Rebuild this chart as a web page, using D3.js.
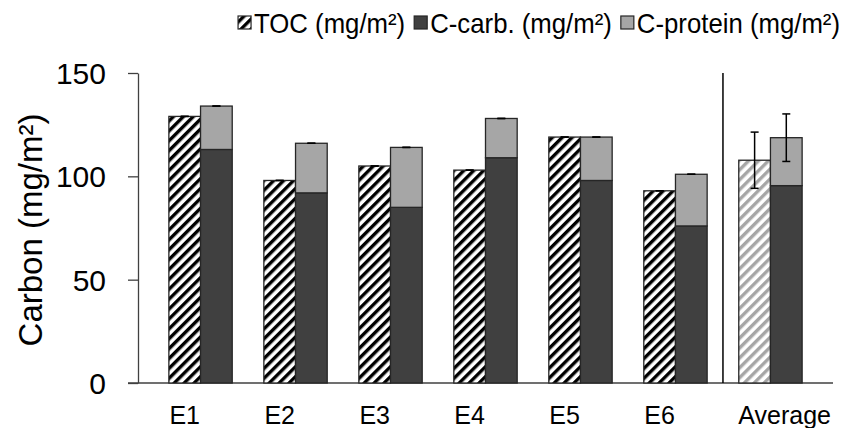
<!DOCTYPE html>
<html>
<head>
<meta charset="utf-8">
<script src="https://cdn.jsdelivr.net/npm/d3@7"></script>
<style>
  html, body { margin: 0; padding: 0; background: #fff; }
  svg { display: block; font-family: "Liberation Sans", Arial, sans-serif; }
</style>
</head>
<body>
<svg id="chart" width="847" height="428"></svg>
<script>
// Carbon per area for each experiment and the overall average
const categories = ["E1", "E2", "E3", "E4", "E5", "E6", "Average"];
const tocValues = [129, 98, 105, 103, 119, 93, 107.8];
const carbValues = [113, 92, 85, 109, 98, 76, 95.5];
const proteinValues = [21, 24, 29, 19, 21, 25, 23.2];
const tocErrors = [0, 0, 0, 0, 0, 0, 13.6];
const totalErrors = [0, 0, 0, 0, 0, 0, 11.5];
const yTicks = [0, 50, 100, 150];
const legendLabels = ["TOC (mg/m²)", "C-carb. (mg/m²)", "C-protein (mg/m²)"];

const svg = d3.select("#chart");
const axisColor = "#404040";
const carbColor = "#404040";
const proteinColor = "#a6a6a6";
const outline = "#262626";

const x = d3.scaleBand().domain(categories).range([138, 833])
  .paddingInner(0.333).paddingOuter(0.325);
const sub = d3.scaleBand().domain(["toc", "stack"]).range([0, x.bandwidth()]);
const y = d3.scaleLinear().domain([0, 150]).range([383, 73]);

// hatch patterns: black for experiments, light gray for the average
const defs = svg.append("defs");
function hatch(id, color, size) {
  const p = defs.append("pattern").attr("id", id)
    .attr("patternUnits", "userSpaceOnUse")
    .attr("width", size).attr("height", size)
    .attr("patternTransform", "rotate(45)");
  p.append("rect").attr("width", size).attr("height", size).attr("fill", "#fff");
  p.append("rect").attr("x", 0).attr("y", 0).attr("width", 3.4).attr("height", size).attr("fill", color);
}
hatch("hatchBlack", "#000", 7);
hatch("hatchGray", "#a6a6a6", 7);

// y axis
const yAxis = svg.append("g").attr("transform", "translate(138,0)")
  .call(d3.axisLeft(y).tickValues(yTicks).tickSize(10).tickPadding(22).tickSizeOuter(0));
yAxis.select(".domain").attr("stroke", axisColor).attr("stroke-width", 1.3);
yAxis.selectAll(".tick line").attr("stroke", axisColor).attr("stroke-width", 1.3);
yAxis.selectAll(".tick text").attr("font-size", 30).attr("fill", "#000")
  .attr("font-family", "Liberation Sans, Arial, sans-serif").attr("dy", "0.35em");

// x axis baseline
svg.append("line").attr("x1", 128).attr("x2", 833).attr("y1", y(0)).attr("y2", y(0))
  .attr("stroke", axisColor).attr("stroke-width", 1.3);

// separator before the average group
const sepX = (x("E6") + x.bandwidth() + x("Average")) / 2;
svg.append("line").attr("x1", sepX).attr("x2", sepX).attr("y1", y(150)).attr("y2", y(0))
  .attr("stroke", "#000").attr("stroke-width", 1.5);

const groups = svg.append("g").selectAll("g").data(categories).join("g")
  .attr("transform", d => `translate(${x(d)},0)`);

// TOC bars
groups.append("rect")
  .attr("x", sub("toc")).attr("width", sub.bandwidth())
  .attr("y", (d, i) => y(tocValues[i]))
  .attr("height", (d, i) => y(0) - y(tocValues[i]))
  .attr("fill", d => d === "Average" ? "url(#hatchGray)" : "url(#hatchBlack)")
  .attr("stroke", outline).attr("stroke-width", 1.3);

// C-carb bars
groups.append("rect")
  .attr("x", sub("stack")).attr("width", sub.bandwidth())
  .attr("y", (d, i) => y(carbValues[i]))
  .attr("height", (d, i) => y(0) - y(carbValues[i]))
  .attr("fill", carbColor).attr("stroke", outline).attr("stroke-width", 1.3);

// C-protein stacked on C-carb
groups.append("rect")
  .attr("x", sub("stack")).attr("width", sub.bandwidth())
  .attr("y", (d, i) => y(carbValues[i] + proteinValues[i]))
  .attr("height", (d, i) => y(carbValues[i]) - y(carbValues[i] + proteinValues[i]))
  .attr("fill", proteinColor).attr("stroke", outline).attr("stroke-width", 1.3);

// error bars
function errorBar(g, cx, value, err) {
  const cap = 4;
  g.append("line").attr("x1", cx).attr("x2", cx).attr("y1", y(value - err)).attr("y2", y(value + err))
    .attr("stroke", "#000").attr("stroke-width", 1.5);
  [value - err, value + err].forEach(v => {
    g.append("line").attr("x1", cx - cap).attr("x2", cx + cap).attr("y1", y(v)).attr("y2", y(v))
      .attr("stroke", "#000").attr("stroke-width", 1.5);
  });
}
groups.each(function(d, i) {
  const g = d3.select(this);
  errorBar(g, sub("toc") + sub.bandwidth() / 2, tocValues[i], tocErrors[i]);
  errorBar(g, sub("stack") + sub.bandwidth() / 2, carbValues[i] + proteinValues[i], totalErrors[i]);
});

// category labels
svg.append("g").selectAll("text").data(categories).join("text")
  .attr("x", d => d === "Average" ? x.range()[1] - 2 : x(d) + sub("toc") + sub.bandwidth() / 2)
  .attr("y", 424)
  .attr("text-anchor", d => d === "Average" ? "end" : "middle")
  .attr("font-size", 25).attr("fill", "#000")
  .text(d => d);

// y axis title
svg.append("text")
  .attr("transform", `translate(42,${(y(0) + y(150)) / 2 + 2}) rotate(-90)`)
  .attr("text-anchor", "middle").attr("font-size", 33).attr("fill", "#000")
  .text("Carbon (mg/m²)");

// legend, right-aligned along the top, slightly condensed text
const legend = svg.append("g");
const swatchFills = ["url(#hatchBlack)", carbColor, proteinColor];
const squeeze = 0.92;
const items = legend.selectAll("g").data(legendLabels).join("g");
items.append("rect").attr("width", 13).attr("height", 13).attr("y", 16)
  .attr("fill", (d, i) => swatchFills[i]).attr("stroke", outline).attr("stroke-width", 1.2);
items.append("text").attr("transform", `translate(16,33) scale(${squeeze},1)`)
  .attr("font-size", 28).attr("fill", "#000")
  .text(d => d);
const widths = [];
items.each(function() {
  widths.push(16 + squeeze * d3.select(this).select("text").node().getComputedTextLength());
});
const gap = 9;
const total = d3.sum(widths) + gap * (widths.length - 1);
let lx = 840 - total;
items.each(function(d, i) {
  d3.select(this).attr("transform", `translate(${lx},0)`);
  lx += widths[i] + gap;
});
</script>
</body>
</html>
